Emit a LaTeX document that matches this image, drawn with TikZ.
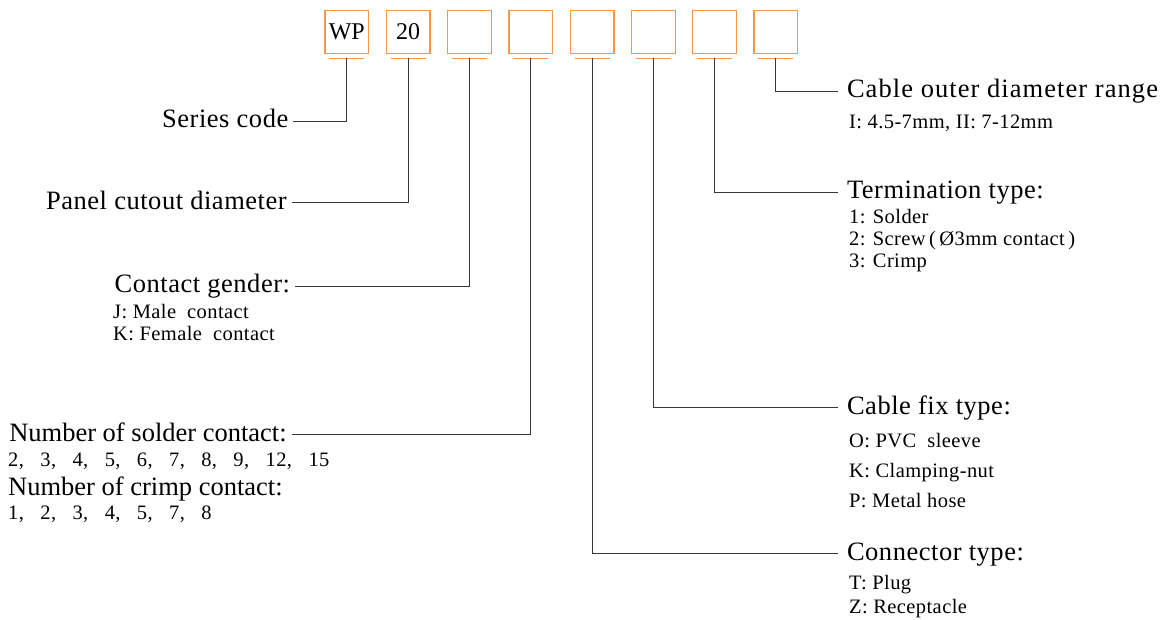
\documentclass[tikz,border=0pt]{standalone}
\usepackage{fontspec}
\setmainfont{Liberation Serif}
\newfontfamily\labfont[LetterSpace=2]{Liberation Serif}
\newfontfamily\widefont[LetterSpace=4]{Liberation Serif}
\definecolor{boxorange}{RGB}{247,150,70}
\definecolor{linegray}{RGB}{55,55,55}
\newcommand\bigtxt{\labfont\fontsize{26.5}{30}\selectfont}
\newcommand\bigplain{\fontsize{26.5}{30}\selectfont}
\newcommand\smalltxt{\labfont\fontsize{20.5}{24}\selectfont}
\newcommand\cs{,\hspace{0.8em}}
\begin{document}
\begin{tikzpicture}[x=1pt,y=-1pt,
  codebox/.style={draw=boxorange,line width=1.3pt,minimum width=43.7pt,minimum height=42.7pt,inner sep=0pt,font=\fontsize{24}{26}\selectfont},
  uline/.style={draw=boxorange,line width=1pt},
  conn/.style={draw=linegray,line width=0.9pt},
  leftlab/.style={font=\bigtxt,anchor=east,inner ysep=0pt,inner xsep=5pt,outer sep=0pt,text height=19pt,text depth=5pt},
  rightlab/.style={font=\bigtxt,anchor=west,inner ysep=0pt,inner xsep=9pt,outer sep=0pt,text height=19pt,text depth=5pt},
  subtxt/.style={font=\smalltxt,anchor=base west,inner sep=0pt},
  bigsub/.style={font=\bigplain,anchor=base west,inner sep=0pt}]
\useasboundingbox (0,0) rectangle (1168,620);
% code boxes
\foreach \i/\t in {1/WP,2/20,3/,4/,5/,6/,7/,8/}{
  \node[codebox] (b\i) at ({346.8+61.3*(\i-1)},32) {\t};
  \coordinate (u\i) at ([yshift=-4.5pt]b\i.south);
  \draw[uline] ([xshift=-17.5pt]u\i) -- ([xshift=17.5pt]u\i);
}
% left labels
\node[leftlab] (l1) at (293.3,121) {Series code};
\node[leftlab] (l2) at (291.7,202.5) {Panel cutout diameter};
\node[leftlab] (l3) at (295,286) {Contact gender:};
\node[leftlab,font=\bigplain] (l4) at (291.7,434.5) {Number of solder contact:};
\node[subtxt] (l3a) at (113,319) {J: Male\ \ contact};
\node[subtxt] (l3b) at (113,341) {K: Female\ \ contact};
\node[subtxt] (l4a) at (8,466) {2\cs 3\cs 4\cs 5\cs 6\cs 7\cs 8\cs 9\cs 12\cs 15};
\node[bigsub] (l4b) at (8,495) {Number of crimp contact:};
\node[subtxt] (l4c) at (8,519) {1\cs 2\cs 3\cs 4\cs 5\cs 7\cs 8};
% right labels
\node[rightlab,font=\widefont\fontsize{26.5}{30}\selectfont] (r8) at (838,91) {Cable outer diameter range};
\node[subtxt] (r8a) at (849,129) {I: 4.5-7mm, II: 7-12mm};
\node[rightlab] (r7) at (838,192) {Termination type:};
\node[subtxt] (r7a) at (849,224) {1: Solder};
\node[subtxt] (r7b) at (849,246) {2: Screw\,(\,Ø3mm contact\,)};
\node[subtxt] (r7c) at (849,268) {3: Crimp};
\node[rightlab] (r6) at (838,407.5) {Cable fix type:};
\node[subtxt] (r6a) at (849,447) {O: PVC\ \ sleeve};
\node[subtxt] (r6b) at (849,477) {K: Clamping-nut};
\node[subtxt] (r6c) at (849,507) {P: Metal hose};
\node[rightlab] (r5) at (838,553.5) {Connector type:};
\node[subtxt] (r5a) at (849,589) {T: Plug};
\node[subtxt] (r5b) at (849,613) {Z: Receptacle};
% connectors
\draw[conn] (u1) |- (l1.east);
\draw[conn] (u2) |- (l2.east);
\draw[conn] (u3) |- (l3.east);
\draw[conn] (u4) |- (l4.east);
\draw[conn] (u5) |- (r5.west);
\draw[conn] (u6) |- (r6.west);
\draw[conn] (u7) |- (r7.west);
\draw[conn] (u8) |- (r8.west);
\end{tikzpicture}
\end{document}
